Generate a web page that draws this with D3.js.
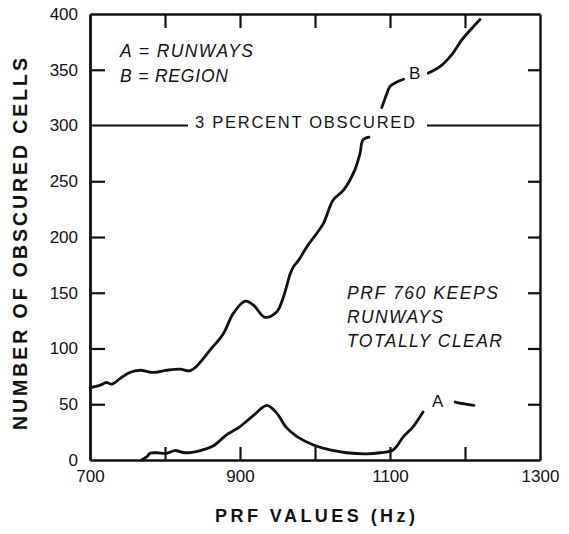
<!DOCTYPE html>
<html><head><meta charset="utf-8">
<script src="https://cdn.jsdelivr.net/npm/d3@7/dist/d3.min.js"></script>
<style>
body{margin:0;background:#fff;}
svg{display:block;}
text{font-family:"Liberation Sans",Arial,sans-serif;fill:#111;}
</style></head>
<body>
<svg id="chart" width="569" height="534"></svg>
<script>
// ---- data ----
const xTicks = [700, 800, 900, 1000, 1100, 1200, 1300];
const xTickLabels = [700, 900, 1100, 1300];
const yTicks = [0, 50, 100, 150, 200, 250, 300, 350, 400];
const thresholdValue = 300;
const thresholdLabel = "3 PERCENT OBSCURED";

// Curve B = REGION (null = gap in the drawn line)
const regionHz    = [700, 713, 722, 729, 740, 753, 767, 784, 802, 820, 833, 842, 860, 878, 891, 907, 918, 933, 949, 958, 967, 971, 978, 989, 1011, 1024, 1038, 1053, 1060, 1064, 1072, null, 1089, 1096, 1100, 1109, 1118, null, 1151, 1167, 1184, 1196, 1209, 1220];
const regionCount = [65, 67, 69.5, 68, 73, 78.5, 80.5, 78.5, 80.5, 81.5, 80, 84, 98.5, 113.5, 131.5, 142.5, 139, 128, 133, 146.5, 167, 173, 179, 191, 212, 233, 242, 260, 275, 287, 289.5, null, 316, 329, 335, 339, 341.5, null, 347, 353, 365, 377, 387, 395];

// Curve A = RUNWAYS
const runwaysHz    = [769, 776, 780, 789, 802, 813, 827, 847, 864, 882, 900, 918, 936, 949, 962, 976, 998, 1020, 1042, 1069, 1087, 1104, 1118, 1131, 1144, null, 1187, 1197, 1212];
const runwaysCount = [0, 3, 6, 6.5, 6, 8.5, 6.5, 8.5, 12.5, 22.5, 30, 40, 49, 42, 29, 21, 13.5, 9, 6.5, 5.5, 6.5, 9, 21, 30, 43, null, 52, 50.5, 49];

const legendLines = ["A = RUNWAYS", "B = REGION"];
const noteLines = ["PRF 760 KEEPS", "RUNWAYS", "TOTALLY CLEAR"];
const xTitle = "PRF VALUES (Hz)";
const yTitle = "NUMBER OF OBSCURED CELLS";

// ---- layout ----
const svg = d3.select("#chart");
const L = 90, R = 540, T = 14, B = 460;
const x = d3.scaleLinear().domain([700, 1300]).range([L, R]);
const y = d3.scaleLinear().domain([0, 400]).range([B, T]);

const axisStyle = g => {
  g.select(".domain").attr("stroke", "#111").attr("stroke-width", 2.4);
  g.selectAll(".tick line").attr("stroke", "#111").attr("stroke-width", 2.2);
  g.selectAll(".tick text").attr("font-family", '"Liberation Sans",Arial,sans-serif')
    .attr("font-size", 17).attr("fill", "#111");
};

// bottom
svg.append("g").attr("transform", `translate(0,${B})`)
  .call(d3.axisBottom(x).tickValues(xTicks.slice(1, -1)).tickSizeInner(-13).tickSizeOuter(0).tickFormat(""))
  .call(axisStyle);
svg.append("g").attr("transform", `translate(0,${B})`)
  .call(d3.axisBottom(x).tickValues(xTickLabels).tickSize(0).tickPadding(10).tickFormat(d3.format("d")))
  .call(g => g.select(".domain").remove())
  .call(axisStyle);
// top
svg.append("g").attr("transform", `translate(0,${T})`)
  .call(d3.axisTop(x).tickValues(xTicks.slice(1, -1)).tickSizeInner(-14).tickSizeOuter(0).tickFormat(""))
  .call(axisStyle);
// left
svg.append("g").attr("transform", `translate(${L},0)`)
  .call(d3.axisLeft(y).tickValues(yTicks).tickSizeInner(0).tickSizeOuter(0).tickPadding(12).tickFormat(d3.format("d")))
  .call(axisStyle);
svg.append("g").attr("transform", `translate(${L},0)`)
  .call(d3.axisLeft(y).tickValues(yTicks.filter(v => v > 0 && v < 400 && v !== thresholdValue)).tickSizeInner(-15).tickSizeOuter(0).tickFormat(""))
  .call(axisStyle);
// right
svg.append("g").attr("transform", `translate(${R},0)`)
  .call(d3.axisRight(y).tickValues(yTicks.filter(v => v > 0 && v < 400 && v !== thresholdValue)).tickSizeInner(-12).tickSizeOuter(0).tickFormat(""))
  .call(axisStyle);

// threshold line with label
const ty = y(thresholdValue);
svg.append("line").attr("x1", L).attr("x2", 188).attr("y1", ty).attr("y2", ty)
  .attr("stroke", "#111").attr("stroke-width", 2.2);
svg.append("line").attr("x1", 427).attr("x2", R).attr("y1", ty).attr("y2", ty)
  .attr("stroke", "#111").attr("stroke-width", 2.2);
svg.append("text").attr("x", 195).attr("y", ty + 2).attr("font-size", 16.5)
  .attr("textLength", 220).attr("lengthAdjust", "spacing").text(thresholdLabel);

// curves
const line = d3.line().defined(d => d[1] != null).x(d => x(d[0])).y(d => y(d[1])).curve(d3.curveCatmullRom.alpha(0.5));
const regionData = regionHz.map((h, i) => [h, regionCount[i]]);
const runwaysData = runwaysHz.map((h, i) => [h, runwaysCount[i]]);
svg.append("path").datum(regionData).attr("d", line).attr("fill", "none")
  .attr("stroke", "#111").attr("stroke-width", 2.8).attr("stroke-linejoin", "round").attr("stroke-linecap", "round");
svg.append("path").datum(runwaysData).attr("d", line).attr("fill", "none")
  .attr("stroke", "#111").attr("stroke-width", 2.8).attr("stroke-linejoin", "round").attr("stroke-linecap", "round");

// curve labels
svg.append("text").attr("x", 409).attr("y", 79).attr("font-size", 17).text("B");
svg.append("text").attr("x", 432).attr("y", 407).attr("font-size", 17).text("A");

// legend (italic)
const legendW = [133, 108];
legendLines.forEach((t, i) => {
  svg.append("text").attr("x", 120).attr("y", 57 + i * 25).attr("font-size", 17.5)
    .attr("font-style", "italic").attr("textLength", legendW[i]).attr("lengthAdjust", "spacing").text(t);
});
const noteW = [151, 96, 155];
const noteY = [299, 323, 347];
noteLines.forEach((t, i) => {
  svg.append("text").attr("x", 347).attr("y", noteY[i]).attr("font-size", 17.5)
    .attr("font-style", "italic").attr("textLength", noteW[i]).attr("lengthAdjust", "spacing").text(t);
});

// axis titles
svg.append("text").attr("x", 315).attr("y", 522).attr("text-anchor", "middle")
  .attr("font-size", 18).attr("font-weight", "bold").attr("textLength", 200).attr("lengthAdjust", "spacing").text(xTitle);
svg.append("text").attr("transform", "translate(27,244) rotate(-90)").attr("text-anchor", "middle")
  .attr("font-size", 19.5).attr("font-weight", "bold").attr("textLength", 372).attr("lengthAdjust", "spacing").text(yTitle);
</script>
</body></html>
